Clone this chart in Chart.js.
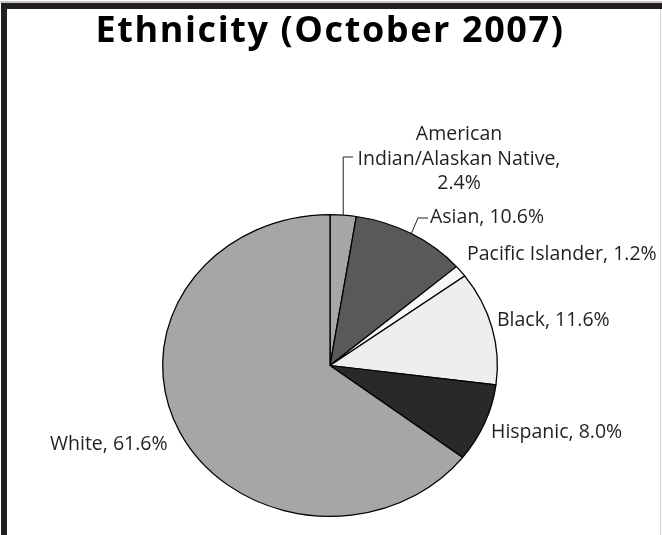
<!DOCTYPE html>
<html>
<head>
<meta charset="utf-8">
<script src="https://cdn.jsdelivr.net/npm/chart.js@4/dist/chart.umd.min.js"></script>
<style>
  html, body { margin: 0; padding: 0; background: #fff; }
  #wrap { position: relative; width: 662px; height: 535px; overflow: hidden; }
  canvas { position: absolute; left: 0; top: 0; }
  .f { position: absolute; pointer-events: none; }
</style>
</head>
<body>
<div id="wrap">
  <canvas id="c" width="662" height="535"></canvas>
  <div class="f" style="left:0;top:1px;width:662px;height:2px;background:#c8c8c8"></div>
  <div class="f" style="left:1px;top:3px;width:661px;height:6px;background:#231f20"></div>
  <div class="f" style="left:1px;top:3px;width:6px;height:532px;background:#231f20"></div>
  <div class="f" style="left:660px;top:9px;width:1px;height:526px;background:#d4d4d4"></div>
</div>
<script>
const titleText = 'Ethnicity (October 2007)';
const categories = ['American Indian/Alaskan Native', 'Asian', 'Pacific Islander', 'Black', 'Hispanic', 'White'];
const values = [2.4, 10.6, 1.2, 11.6, 8.0, 61.6];
const sliceColors = ['#a6a6a6', '#595959', '#f7f7f7', '#eeeeee', '#292929', '#a6a6a6'];
const labelLines = [
  ['American', 'Indian/Alaskan Native,', values[0].toFixed(1) + '%'],
  [categories[1] + ', ' + values[1].toFixed(1) + '%'],
  [categories[2] + ', ' + values[2].toFixed(1) + '%'],
  [categories[3] + ', ' + values[3].toFixed(1) + '%'],
  [categories[4] + ', ' + values[4].toFixed(1) + '%'],
  [categories[5] + ', ' + values[5].toFixed(1) + '%']
];
// label layout (text anchor, alignment, optional leader bend points; null x = same x as start)
const labelLayout = [
  { x: 459, y: 140, align: 'center', lh: 24.5, leader: [[null, 157], [353, 157]] },
  { x: 430, y: 223, align: 'left', leader: [[418, 218], [428, 218]] },
  { x: 467, y: 260, align: 'left' },
  { x: 497, y: 326, align: 'left' },
  { x: 491, y: 438, align: 'left' },
  { x: 50,  y: 450, align: 'left' }
];
const yScale = 151.5 / 168;

const spacingPlugin = {
  id: 'titleSpacing',
  beforeDraw(chart) { chart.ctx.letterSpacing = '1.6px'; },
  beforeDatasetsDraw(chart) { chart.ctx.letterSpacing = '0px'; }
};

const ellipsePlugin = {
  id: 'ellipse',
  beforeDatasetsDraw(chart) {
    const arc = chart.getDatasetMeta(0).data[0];
    const ctx = chart.ctx;
    ctx.save();
    ctx.translate(arc.x, arc.y);
    ctx.scale(1, yScale);
    ctx.translate(-arc.x, -arc.y);
  },
  afterDatasetsDraw(chart) {
    chart.ctx.restore();
  }
};

const labelPlugin = {
  id: 'sliceLabels',
  afterDraw(chart) {
    const ctx = chart.ctx;
    const arcs = chart.getDatasetMeta(0).data;
    ctx.save();
    ctx.letterSpacing = '0px';
    ctx.fillStyle = '#231f20';
    ctx.strokeStyle = '#231f20';
    ctx.lineWidth = 1;
    ctx.font = '19.5px "Open Sans"';
    ctx.textBaseline = 'alphabetic';
    arcs.forEach((a, i) => {
      const L = labelLayout[i];
      const mid = (a.startAngle + a.endAngle) / 2;
      const sx = a.x + Math.cos(mid) * a.outerRadius;
      const sy = a.y + Math.sin(mid) * a.outerRadius * yScale;
      if (L.leader) {
        ctx.beginPath();
        ctx.moveTo(sx, sy);
        L.leader.forEach(p => ctx.lineTo(p[0] === null ? sx : p[0], p[1]));
        ctx.stroke();
      }
      ctx.textAlign = L.align;
      labelLines[i].forEach((t, k) => ctx.fillText(t, L.x, L.y + k * (L.lh || 0)));
    });
    ctx.restore();
  }
};

new Chart(document.getElementById('c'), {
  type: 'pie',
  data: {
    labels: categories,
    datasets: [{
      data: values,
      backgroundColor: sliceColors,
      borderColor: '#000',
      borderWidth: 1.3
    }]
  },
  options: {
    responsive: false,
    animation: false,
    devicePixelRatio: 1,
    layout: { padding: { top: 0, bottom: 1.5, left: 0, right: 2 } },
    plugins: {
      legend: { display: false },
      tooltip: { enabled: false },
      title: {
        display: true,
        text: titleText,
        color: '#000',
        font: { family: '"Open Sans"', size: 36, weight: 'bold', lineHeight: 1.2 },
        padding: { top: 10.3, bottom: 144 }
      }
    }
  },
  plugins: [spacingPlugin, ellipsePlugin, labelPlugin]
});
</script>
</body>
</html>
